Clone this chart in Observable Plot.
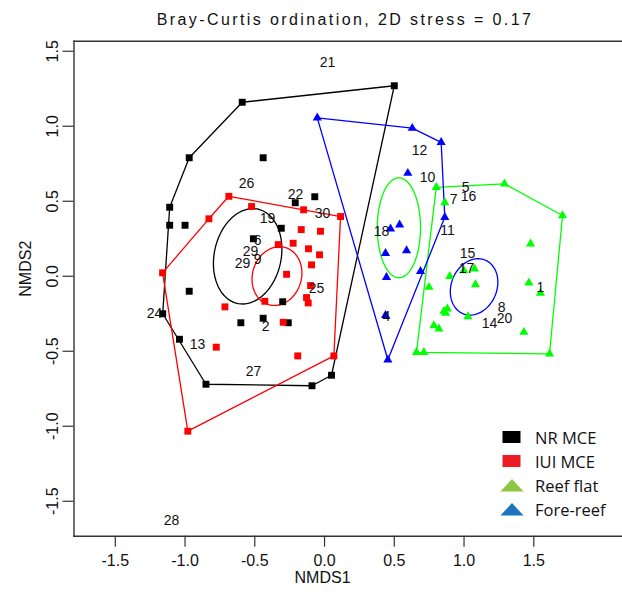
<!DOCTYPE html>
<html><head><meta charset="utf-8">
<script src="https://cdn.jsdelivr.net/npm/d3@7"></script>
<script src="https://cdn.jsdelivr.net/npm/@observablehq/plot@0.6"></script>
<style>
html,body{margin:0;padding:0;background:#fff;}
#wrap{position:relative;width:622px;height:592px;overflow:hidden;background:#fff;}
#title{position:absolute;left:0;top:9px;width:690px;text-align:center;font:16px "Liberation Sans",Arial,sans-serif;letter-spacing:2.4px;line-height:22px;color:#111;}
#chart{position:absolute;left:0;top:30px;}
#legend{position:absolute;left:499px;top:425px;font:16.5px "Open Sans",sans-serif;color:#111;}
.row{display:flex;align-items:center;height:24px;}
.row svg{width:27px;height:16px;margin-right:9px;}
</style></head>
<body>
<div id="wrap">
  <div id="title">Bray-Curtis ordination, 2D stress = 0.17</div>
  <div id="chart"></div>
  <div id="legend"></div>
</div>
<script>
// ---- data ----
const groups = ["NR MCE", "IUI MCE", "Reef flat", "Fore-reef"];
const plotColors = ["#000000", "#ff0000", "#00ff00", "#0000ff"];
const legendColors = ["#000000", "#ed1c24", "#8dc63f", "#1c75bc"];
const groupShapes = ["square", "square", "triangle", "triangle"];

const nrX = [0.50, -0.59, -0.97, -0.44, -1.11, -1.11, -1.00, -0.21, -0.07, -0.31, -0.51, -0.97, -1.16, -0.30, -0.44, -0.60, -0.26, -1.04, -0.85, -0.09, 0.05];
const nrY = [1.27, 1.16, 0.79, 0.79, 0.46, 0.34, 0.34, 0.49, 0.53, 0.32, 0.25, -0.10, -0.25, -0.17, -0.28, -0.31, -0.31, -0.42, -0.72, -0.73, -0.66];

const iuiX = [-0.686, -0.523, -0.829, -0.150, 0.115, -0.167, -0.029, -0.332, -0.225, -0.115, -0.036, -0.093, -1.161, -0.272, -0.100, -0.428, -0.129, -0.117, -0.714, -0.296, -0.776, -0.192, 0.067, -0.980];
const iuiY = [0.533, 0.465, 0.383, 0.443, 0.398, 0.311, 0.300, 0.211, 0.220, 0.183, 0.143, 0.076, 0.023, 0.013, -0.062, -0.167, -0.142, -0.178, -0.204, -0.307, -0.473, -0.531, -0.531, -1.033];

const reefFlatX = [0.801, 1.290, 1.706, 0.862, 1.477, 0.898, 0.999, 1.075, 1.082, 1.465, 1.548, 0.749, 0.856, 0.880, 0.868, 1.028, 0.784, 0.820, 1.429, 0.659, 0.712, 1.613];
const reefFlatY = [0.593, 0.616, 0.405, 0.491, 0.216, 0.000, 0.038, 0.049, -0.055, -0.044, -0.113, -0.073, -0.233, -0.217, -0.245, -0.269, -0.329, -0.351, -0.373, -0.507, -0.507, -0.517];

const foreReefX = [-0.052, 0.629, 0.836, 0.597, 0.862, 0.473, 0.538, 0.437, 0.588, 0.688, 0.444, 0.437, 0.454];
const foreReefY = [1.056, 0.987, 0.893, 0.687, 0.393, 0.316, 0.343, 0.153, 0.171, 0.033, -0.007, -0.260, -0.557];

const siteLabels = ["21", "12", "10", "5", "7", "16", "11", "18", "26", "22", "30", "19", "6", "29", "9", "29", "15", "17", "1", "8", "20", "14", "25", "2", "24", "13", "27", "4", "28"];
const labelX = [0.022, 0.681, 0.738, 1.011, 0.925, 1.032, 0.882, 0.409, -0.559, -0.208, -0.014, -0.409, -0.480, -0.530, -0.480, -0.588, 1.025, 1.018, 1.548, 1.269, 1.290, 1.183, -0.057, -0.423, -1.219, -0.910, -0.509, 0.444, -1.097];
const labelY = [1.425, 0.838, 0.658, 0.591, 0.511, 0.531, 0.305, 0.298, 0.618, 0.545, 0.418, 0.385, 0.238, 0.165, 0.111, 0.085, 0.151, 0.051, -0.075, -0.209, -0.281, -0.315, -0.082, -0.335, -0.249, -0.455, -0.635, -0.268, -1.629];

// dispersion ellipses: centre, semi-axes (a along tilted vertical, b across), tilt in degrees
const ellCX = [-0.551, -0.341, 0.533, 1.072];
const ellCY = [0.133, 0.001, 0.323, -0.071];
const ellA = [0.323, 0.200, 0.333, 0.196];
const ellB = [0.239, 0.174, 0.155, 0.161];
const ellTilt = [15, 25, 0, 30];

const xTicks = [-1.5, -1.0, -0.5, 0.0, 0.5, 1.0, 1.5];
const yTicks = [-1.5, -1.0, -0.5, 0.0, 0.5, 1.0, 1.5];

// ---- build tables ----
const seriesX = [nrX, iuiX, reefFlatX, foreReefX];
const seriesY = [nrY, iuiY, reefFlatY, foreReefY];
const points = [];
groups.forEach((g, gi) => seriesX[gi].forEach((x, i) => points.push({group: g, x, y: seriesY[gi][i], shape: groupShapes[gi]})));
const labels = siteLabels.map((t, i) => ({text: t, x: labelX[i], y: labelY[i]}));

const ellipsePts = [];
groups.forEach((g, gi) => {
  const th = ellTilt[gi] * Math.PI / 180;
  const ux = Math.sin(th), uy = Math.cos(th), vx = Math.cos(th), vy = -Math.sin(th);
  for (let d = 0; d <= 360; d += 4) {
    const t = d * Math.PI / 180;
    ellipsePts.push({group: g,
      x: ellCX[gi] + ellA[gi] * Math.cos(t) * ux + ellB[gi] * Math.sin(t) * vx,
      y: ellCY[gi] + ellA[gi] * Math.cos(t) * uy + ellB[gi] * Math.sin(t) * vy});
  }
});

const fmt = d => d.toFixed(1);

const chart = Plot.plot({
  width: 622,
  height: 562,
  marginLeft: 73.5,
  marginRight: 0,
  marginTop: 10.7,
  marginBottom: 56.3,
  x: {domain: [-1.796, 2.136]},
  y: {domain: [-1.733, 1.567]},
  color: {domain: groups, range: plotColors},
  style: {fontFamily: "'Liberation Sans', Arial, sans-serif", fontSize: "16px", color: "#111", background: "white", overflow: "visible"},
  marks: [
    Plot.frame({anchor: "top", stroke: "#333", strokeWidth: 1.4}),
    Plot.frame({anchor: "left", stroke: "#333", strokeWidth: 1.4}),
    Plot.frame({anchor: "bottom", stroke: "#333", strokeWidth: 1.4}),
    Plot.axisX({ticks: xTicks, tickSize: 11, tickPadding: 7, tickFormat: fmt, label: null, fontSize: 16, stroke: "#333", strokeWidth: 1.2}),
    Plot.axisY({ticks: yTicks, tickSize: 11, tickPadding: 5.5, tickRotate: -90, tickFormat: fmt, label: null, fontSize: 16, stroke: "#333", strokeWidth: 1.2}),
    Plot.text(["NMDS1"], {text: d => d, frameAnchor: "bottom", textAnchor: "middle", dy: 41.5, dx: -25.7, lineAnchor: "middle", fontSize: 16}),
    Plot.text(["NMDS2"], {text: d => d, frameAnchor: "left", textAnchor: "middle", dx: -48.5, dy: -20, rotate: -90, lineAnchor: "middle", fontSize: 16}),
    Plot.hull(points, {x: "x", y: "y", z: "group", stroke: "group", strokeWidth: 1.3}),
    Plot.line(ellipsePts, {x: "x", y: "y", z: "group", stroke: "group", strokeWidth: 1.3, curve: "linear"}),
    Plot.dot(points.filter(d => d.shape === "square"), {x: "x", y: "y", fill: "group", symbol: "square", r: 3.9}),
    Plot.dot(points.filter(d => d.shape === "triangle"), {x: "x", y: "y", fill: "group", symbol: "triangle", r: 3.4}),
    Plot.text(labels, {x: "x", y: "y", text: "text", fontSize: 14, fill: "#111"})
  ]
});
document.getElementById("chart").append(chart);

// ---- legend (inside plot area, bottom right) ----
const legend = d3.select("#legend");
groups.forEach((g, gi) => {
  const row = legend.append("div").attr("class", "row");
  const s = row.append("svg").attr("viewBox", "0 0 27 16");
  if (groupShapes[gi] === "square") {
    s.append("rect").attr("x", 3.5).attr("y", 2).attr("width", 18).attr("height", 12).attr("fill", legendColors[gi]);
  } else {
    s.append("polygon").attr("points", "1.5,14.5 24.5,14.5 13,2").attr("fill", legendColors[gi]);
  }
  row.append("span").text(g);
});
</script>
</body></html>
